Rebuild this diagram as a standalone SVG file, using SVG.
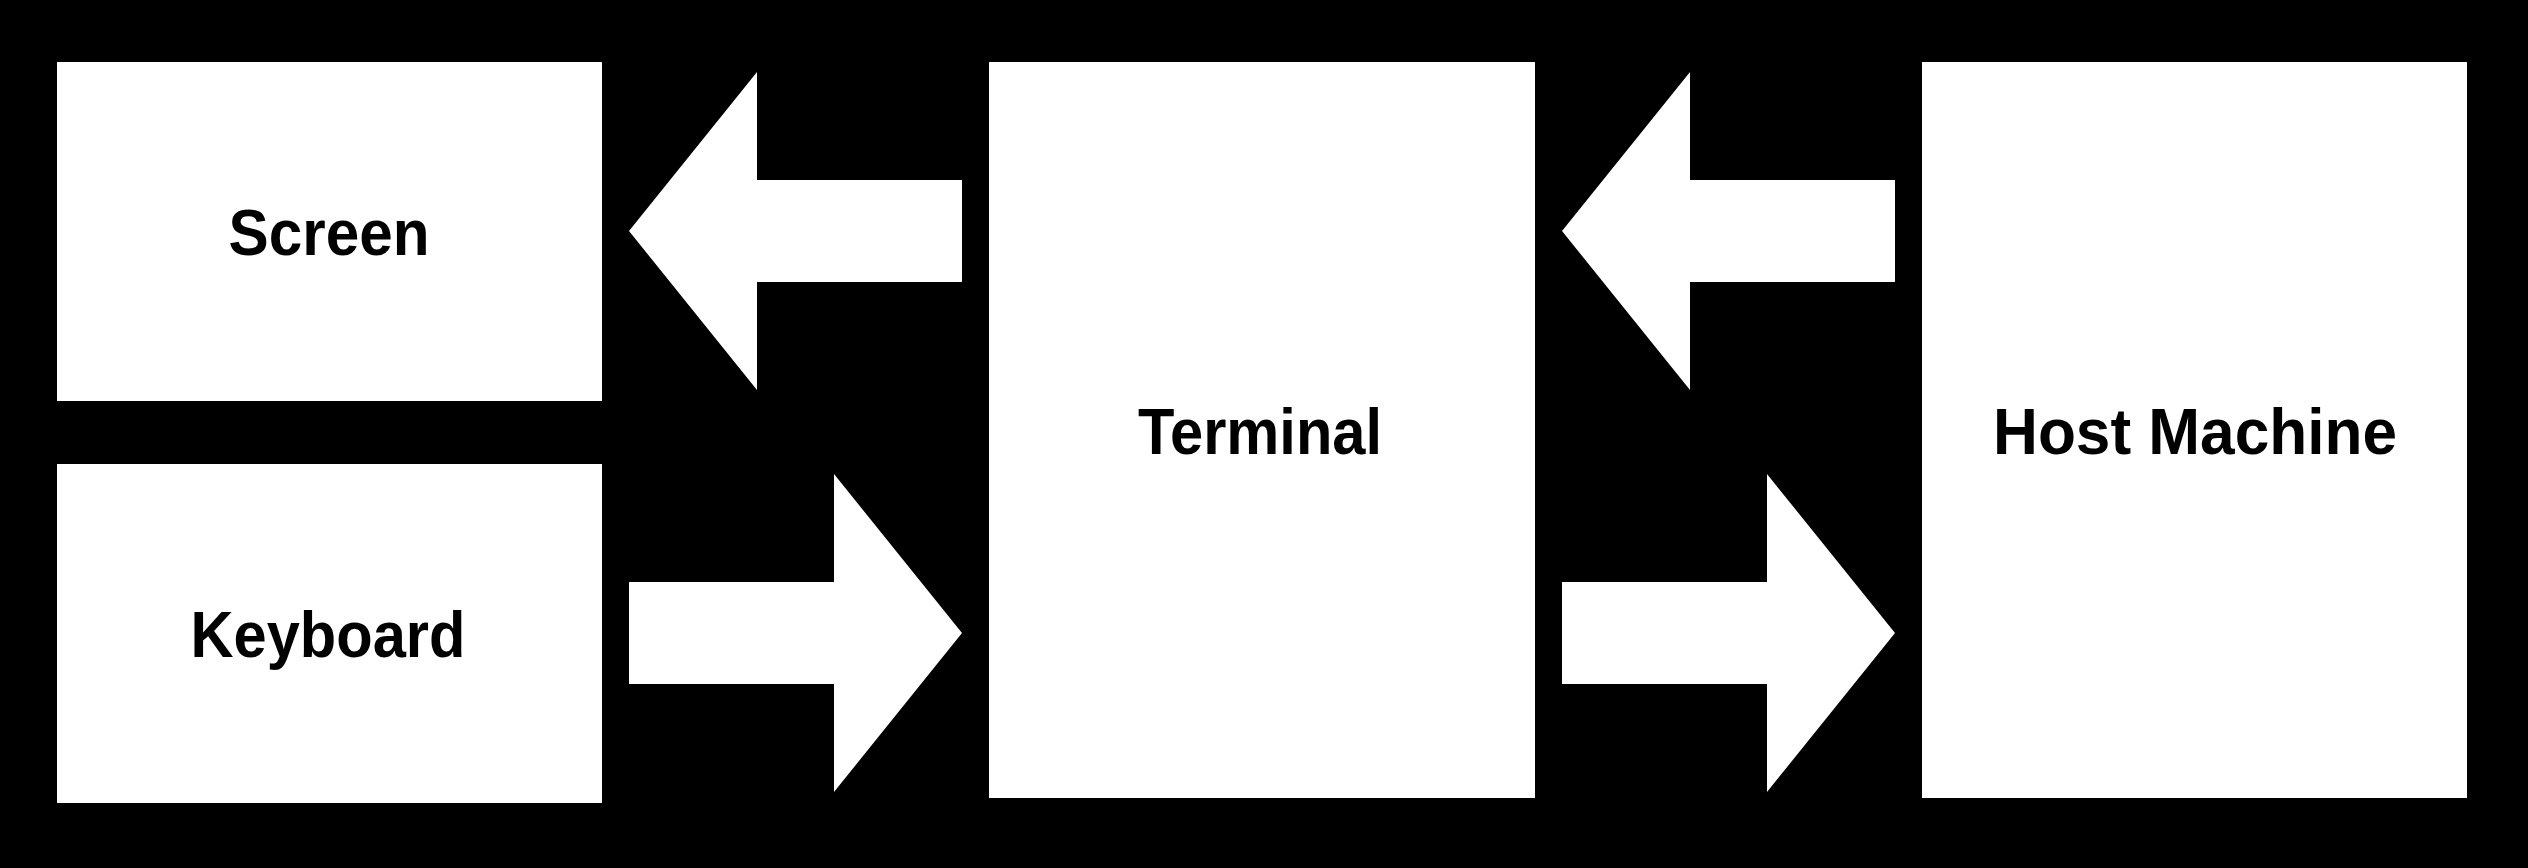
<svg xmlns="http://www.w3.org/2000/svg" width="2528" height="868" viewBox="0 0 2528 868">
<style>
.box{fill:#ffffff;stroke:none}
.arrow{fill:#ffffff;stroke:none}
.lbl{font-family:"Liberation Sans",Arial,Helvetica,sans-serif;font-weight:bold;font-size:65px;fill:#000000;text-anchor:middle}
</style>
<rect x="0" y="0" width="2528" height="868" fill="#000000"/>
<g id="node-screen">
<rect class="box" x="57" y="62" width="545" height="339"/>
<text class="lbl" x="329" y="255" textLength="201" lengthAdjust="spacingAndGlyphs">Screen</text>
</g>
<g id="node-keyboard">
<rect class="box" x="57" y="464" width="545" height="339"/>
<text class="lbl" x="328" y="657" textLength="275" lengthAdjust="spacingAndGlyphs">Keyboard</text>
</g>
<g id="node-terminal">
<rect class="box" x="989" y="62" width="546" height="736"/>
<text class="lbl" x="1260" y="454" textLength="244" lengthAdjust="spacingAndGlyphs">Terminal</text>
</g>
<g id="node-host">
<rect class="box" x="1922" y="62" width="545" height="736"/>
<text class="lbl" x="2195" y="454" textLength="404" lengthAdjust="spacingAndGlyphs">Host Machine</text>
</g>
<g id="connectors">
<polygon class="arrow" points="629,231 757,72 757,180 962,180 962,282 757,282 757,390"/>
<polygon class="arrow" points="962,633 834,474 834,582 629,582 629,684 834,684 834,792"/>
<polygon class="arrow" points="1562,231 1690,72 1690,180 1895,180 1895,282 1690,282 1690,390"/>
<polygon class="arrow" points="1895,633 1767,474 1767,582 1562,582 1562,684 1767,684 1767,792"/>
</g>
</svg>
